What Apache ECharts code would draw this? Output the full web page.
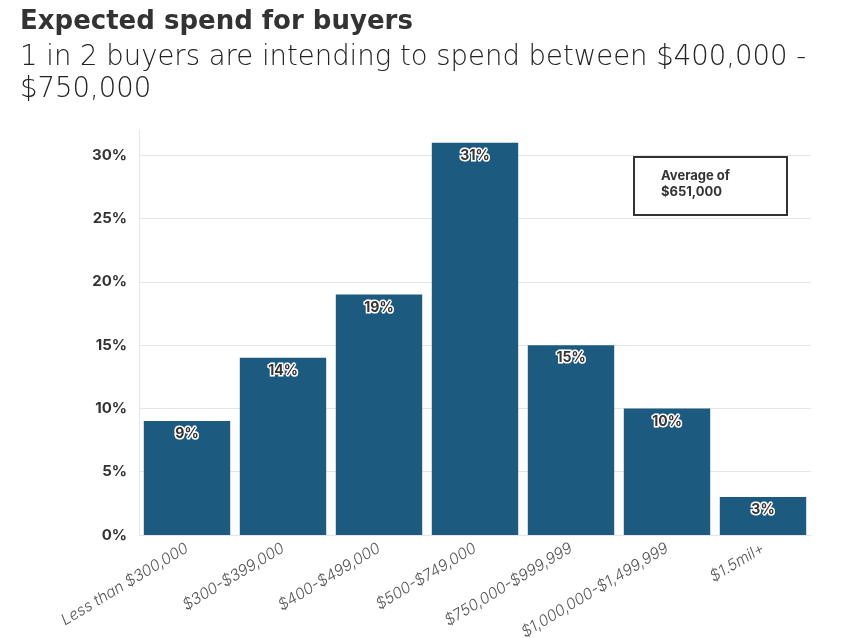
<!DOCTYPE html>
<html>
<head>
<meta charset="utf-8">
<script src="https://cdn.jsdelivr.net/npm/echarts@6/dist/echarts.min.js"></script>
<style>
  html, body { margin: 0; padding: 0; background: #fff; }
  #chart { width: 846px; height: 638px; }
</style>
</head>
<body>
<div id="chart"></div>
<script>
// spend bands and share of buyers (%)
var categories = ["Less than $300,000", "$300-$399,000", "$400-$499,000", "$500-$749,000",
  "$750,000-$999,999", "$1,000,000-$1,499,999", "$1.5mil+"];
var shares = [9, 14, 19, 31, 15, 10, 3];
var yTicks = [0, 5, 10, 15, 20, 25, 30];

var barColor = "#1c5a80";
var fontName = "Inter, 'Open Sans', sans-serif";

var chart = echarts.init(document.getElementById("chart"));

var option = {
  animation: false,
  title: {
    left: 20,
    top: 9,
    padding: 0,
    text: "Expected spend for buyers",
    subtext: "1 in 2 buyers are intending to spend between $400,000 -\n$750,000",
    itemGap: 7,
    textStyle: {
      fontFamily: "'DejaVu Sans', sans-serif",
      fontSize: 26,
      fontWeight: 700,
      color: "#333"
    },
    subtextStyle: {
      fontFamily: "'DejaVu Sans ExtraLight', 'DejaVu Sans Light', 'DejaVu Sans', sans-serif",
      fontSize: 27.5,
      fontWeight: 200,
      color: "#222",
      lineHeight: 32
    }
  },
  grid: {
    left: 139,
    right: 35,
    top: 130,
    bottom: 103,
    containLabel: false,
    outerBoundsMode: "none"
  },
  xAxis: {
    type: "category",
    data: categories,
    axisLine: { lineStyle: { color: "#e6e6e6" } },
    axisTick: { alignWithLabel: true, lineStyle: { color: "#e0e0e0" }, length: 6 },
    axisLabel: {
      interval: 0,
      rotate: 31,
      margin: 12,
      fontFamily: fontName,
      fontSize: 15.5,
      fontStyle: "italic",
      fontWeight: 300,
      color: "#555"
    }
  },
  yAxis: {
    type: "value",
    min: yTicks[0],
    max: 32,
    interval: 5,
    axisLine: { show: true, lineStyle: { color: "#e6e6e6" } },
    axisTick: { show: false },
    axisLabel: {
      showMaxLabel: false,
      margin: 12,
      fontFamily: fontName,
      fontSize: 15,
      fontWeight: 700,
      color: "#333",
      formatter: "{value}%"
    },
    splitLine: {
      showMaxLine: false,
      lineStyle: { color: "#e6e6e6" }
    }
  },
  series: [
    {
      type: "bar",
      data: shares,
      barCategoryGap: "10%",
      itemStyle: { color: barColor },
      label: {
        show: true,
        position: "insideTop",
        distance: 6,
        formatter: "{c}%",
        fontFamily: fontName,
        fontSize: 14,
        fontWeight: 700,
        color: "#333",
        textBorderColor: "#fff",
        textBorderWidth: 3
      }
    }
  ],
  graphic: [
    {
      type: "rect",
      left: 633,
      top: 156,
      shape: { width: 153, height: 58 },
      style: { fill: "#fff", stroke: "#333", lineWidth: 2 }
    },
    {
      type: "text",
      left: 661,
      top: 168,
      style: {
        text: "Average of\n$651,000",
        fontFamily: fontName,
        fontSize: 13,
        fontWeight: 700,
        lineHeight: 16,
        fill: "#333"
      }
    }
  ]
};

chart.setOption(option);
</script>
</body>
</html>
